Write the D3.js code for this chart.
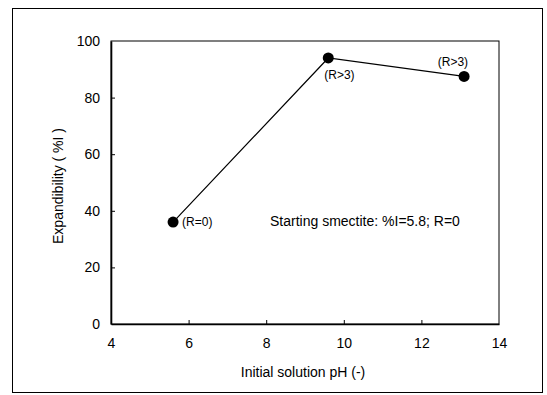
<!DOCTYPE html>
<html>
<head>
  <meta charset="utf-8">
  <title>Expandibility vs pH</title>
  <script src="https://d3js.org/d3.v7.min.js"></script>
  <style>
    body { margin: 0; background: #fff; }
    text { font-family: "Liberation Sans", Arial, sans-serif; fill: #000; }
  </style>
</head>

<body>
<div id="chart"></div>
<script type="text/javascript">
  let w = 547;
  let h = 395;

  // data
  let phValues = [5.6, 9.6, 13.1];
  let expandibility = [36, 94, 87.5];
  let orderLabels = ['(R=0)', '(R>3)', '(R>3)'];
  let xTicks = [4, 6, 8, 10, 12, 14];
  let yTicks = [0, 20, 40, 60, 80, 100];

  let dataset = phValues.map((x, i) => [x, expandibility[i], orderLabels[i]]);

  let xScale = d3.scaleLinear().domain([4, 14]).range([111, 499]);
  let yScale = d3.scaleLinear().domain([0, 100]).range([324, 41]);

  let svg = d3.select('#chart')
              .append('svg')
              .attr('width', w)
              .attr('height', h);

  // outer frame
  svg.append('rect')
     .attr('x', 12.5).attr('y', 8.5)
     .attr('width', 530).attr('height', 384)
     .attr('fill', 'none')
     .attr('stroke', '#000')
     .attr('stroke-width', 1);

  // plot box
  svg.append('rect')
     .attr('x', xScale(4)).attr('y', yScale(100))
     .attr('width', xScale(14) - xScale(4))
     .attr('height', yScale(0) - yScale(100))
     .attr('fill', 'none')
     .attr('stroke', '#000')
     .attr('stroke-width', 1);

  // axes with inward ticks
  let xAxis = svg.append('g')
     .attr('transform', `translate(0,${yScale(0)})`)
     .call(d3.axisBottom(xScale).tickValues(xTicks).tickSizeInner(-4).tickSizeOuter(0).tickPadding(14));
  let yAxis = svg.append('g')
     .attr('transform', `translate(${xScale(4)},0)`)
     .call(d3.axisLeft(yScale).tickValues(yTicks).tickSizeInner(-4).tickSizeOuter(0).tickPadding(11));

  [xAxis, yAxis].forEach(g => {
    g.select('.domain').attr('stroke', '#000').attr('stroke-width', 1.6);
    g.selectAll('.tick line').attr('stroke', '#000');
    g.selectAll('.tick text')
     .attr('font-size', '14px')
     .attr('font-family', '"Liberation Sans", Arial, sans-serif')
     .attr('fill', '#000');
  });
  xAxis.selectAll('.tick').filter(d => d === 4 || d === 14).select('line').remove();
  yAxis.selectAll('.tick').filter(d => d === 0 || d === 100).select('line').remove();

  // line and points
  let line = d3.line().x(([x]) => xScale(x)).y(([x, y]) => yScale(y));
  svg.append('path')
     .datum(dataset)
     .attr('d', line)
     .attr('fill', 'none')
     .attr('stroke', '#000')
     .attr('stroke-width', 1.2);

  svg.selectAll('circle')
     .data(dataset)
     .enter()
     .append('circle')
     .attr('cx', ([x]) => xScale(x))
     .attr('cy', ([x, y]) => yScale(y))
     .attr('r', 5.5)
     .attr('fill', '#000');

  // point labels
  let labelOffsets = [[9, 4, 'start'], [-4, 21, 'start'], [4, -10, 'end']];
  svg.selectAll('text.plabel')
     .data(dataset)
     .enter()
     .append('text')
     .attr('class', 'plabel')
     .attr('x', ([x], i) => xScale(x) + labelOffsets[i][0])
     .attr('y', ([x, y], i) => yScale(y) + labelOffsets[i][1])
     .attr('text-anchor', (d, i) => labelOffsets[i][2])
     .attr('font-size', '12px')
     .text(d => d[2]);

  svg.append('text')
     .attr('x', 270).attr('y', 226)
     .attr('font-size', '14px')
     .text('Starting smectite: %I=5.8; R=0');

  // axis titles
  svg.append('text')
     .attr('x', (xScale(4) + xScale(14)) / 2 - 2)
     .attr('y', 377)
     .attr('text-anchor', 'middle')
     .attr('font-size', '14px')
     .text('Initial solution pH (-)');

  svg.append('text')
     .attr('transform', `translate(63,186) rotate(-90)`)
     .attr('text-anchor', 'middle')
     .attr('font-size', '14px')
     .text('Expandibility ( %I )');
</script>
</body>
</html>
